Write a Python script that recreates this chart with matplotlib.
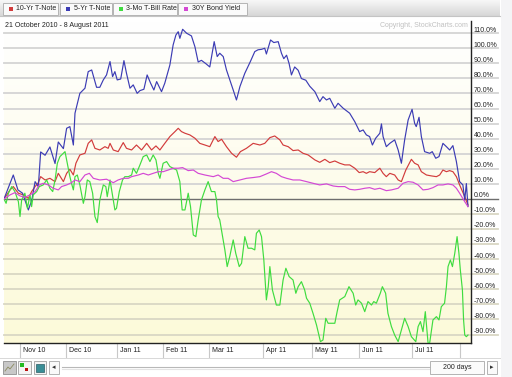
import numpy as np
import matplotlib
matplotlib.use('Agg')
import matplotlib.pyplot as plt
from matplotlib.patches import Rectangle
from matplotlib import transforms

plt.rcParams['font.family'] = ['Liberation Sans', 'DejaVu Sans']

# percent change since 21 Oct 2010, x = trading day index
note10_day = [0, 2.6, 4, 6.2, 8.3, 10.5, 11.9, 13.4, 14.8, 15.8,
              17.7, 19.8, 22, 23.4, 25.6, 27, 28.4, 29.9, 31, 32.7,
              34.9, 36.3, 37.8, 39.2, 41.3, 43.5, 44.9, 45.7, 47.1, 49.2,
              51.4, 52.8, 55, 57.1, 59.3, 61.5, 63.6, 65.5, 67.2, 69.3,
              71.5, 73.7, 75.1, 76.5, 78, 80.1, 82.3, 84.4, 86.6, 88.7,
              90.9, 92.3, 93.8, 95.9, 98.1, 100.2, 101.9, 104.5, 107.4, 110.3,
              112.4, 114.6, 116.7, 118.9, 120.3, 122.5, 124.6, 126.8, 128.9, 131.1,
              134, 136.1, 138.3, 140.4, 142.6, 144.7, 146.9, 149, 151.2, 153.1,
              154.8, 156.2, 157.6, 159.8, 162, 163.4, 164.8, 166.3, 168.4, 169.9,
              171.3, 173.2, 175.6, 177, 178.5, 179.9, 182.1, 184.2, 186.4, 187.8,
              189.2, 190.7, 192.1, 193.5, 195, 196.4, 198.6, 200]
note10_pct = [0, 6.0, 8.2, 3.8, 2.7, 0.4, 4.9, 8.2, 10.8, 14.8,
              12.6, 13.7, 11.5, 17.0, 11.5, 17.0, 19.7, 15.9, 23.7, 29.2,
              30.3, 36.9, 39.2, 33.6, 32.5, 34.7, 33.6, 36.9, 32.5, 31.4,
              37.4, 33.6, 32.5, 35.8, 32.5, 36.9, 32.5, 35.2, 32.5, 36.9,
              41.4, 44.7, 46.9, 44.7, 43.6, 42.5, 40.3, 36.9, 35.8, 34.7,
              41.4, 38.1, 39.6, 34.7, 30.3, 27.7, 31.4, 33.6, 36.9, 35.8,
              36.9, 40.7, 41.8, 39.2, 35.8, 34.7, 32.1, 32.5, 30.3, 29.2,
              25.9, 24.3, 26.3, 24.1, 25.2, 23.7, 22.6, 22.6, 20.4, 17.5,
              18.1, 17.0, 18.1, 17.5, 20.4, 17.0, 14.8, 17.0, 15.9, 12.6,
              11.5, 19.2, 26.3, 23.7, 22.6, 18.1, 15.9, 15.3, 14.8, 15.9,
              19.2, 18.1, 18.8, 18.1, 14.8, 9.3, 1.5, -4.0]

note5_day = [0, 4, 6, 8, 10.5, 12, 13.4, 14.8, 15.8, 17.7,
             19.8, 22, 23.4, 25.6, 27, 28.4, 29.9, 30.6, 32.7, 34.9,
             36.3, 37.8, 39.9, 41.3, 42.8, 44.2, 45.7, 46.8, 47.8, 48.8,
             50.3, 51.7, 52.8, 54.3, 55.7, 57.4, 58.6, 60.3, 61.7, 63.2,
             64.6, 65.8, 67.9, 69.3, 71.5, 72.9, 74.1, 75.1, 75.8, 77,
             78.7, 80.8, 82.3, 83.7, 85.1, 87, 88.7, 90.6, 91.9, 93,
             94.5, 95.9, 97.6, 98.8, 100.2, 101.7, 103.8, 106.2, 108.1, 109.5,
             111, 112.4, 113.1, 114.9, 116.3, 118.2, 119.6, 120.6, 121.8, 122.9,
             123.9, 125.3, 126.8, 128.2, 130.1, 131.8, 134, 136.1, 137.5, 139,
             140.4, 142.6, 144, 146.2, 149, 151.2, 153.3, 154.8, 156.2, 157.6,
             158.8, 160.2, 162, 162.7, 163.4, 164.8, 166.3, 168.4, 169.9, 171.3,
             172.7, 174.2, 175.9, 177, 177.7, 178.9, 179.9, 181.3, 183.5, 184.6,
             186.1, 187.5, 189.2, 190.7, 192.1, 193.5, 195, 196.4, 197.8, 198.6,
             199.3, 200]
note5_pct = [0, 15.9, 6.0, 3.8, -7.3, -0.7, 11.5, 8.2, 31.2, 29,
             34.5, 23.5, 37.8, 33.4, 46.9, 48, 35.8, 56.9, 70.1, 73.5,
             84.5, 85.6, 74.1, 74.1, 79, 82.3, 91.2, 81.2, 84.5, 79,
             79.6, 91.8, 83.4, 73.5, 75.7, 70.1, 71.9, 72.8, 82.3, 76.8,
             72.3, 77.9, 71.2, 76.8, 88.9, 102.2, 108.8, 111, 106.6, 112.6,
             110, 108.2, 101, 90.9, 92, 89.8, 87.6, 104.4, 94.5, 96.7,
             94.5, 85.6, 77.9, 72.3, 65.7, 74.6, 83.4, 91.2, 97.8, 99,
             99.3, 100, 96.2, 105.5, 103.8, 104.4, 96.7, 93.1, 95.4, 89.8,
             82.3, 87.6, 85.4, 79.9, 78.8, 74.8, 71.2, 64.6, 67.9, 65.7,
             66.8, 60.2, 63.5, 60.2, 56.9, 51.3, 44.7, 45.8, 42.5, 41.4,
             35.8, 40.3, 43.6, 49.8, 41.4, 34.7, 36.9, 39.2, 32.5, 23.7,
             39.2, 52.4, 59.5, 50.2, 48, 54.2, 41.4, 31.4, 30.3, 31.4,
             27, 28.1, 36.9, 34.7, 32.5, 35.4, 24.8, 11.5, 9.3, -0.7,
             10.2, -5]

tbill_day = [0, 0.9, 1.9, 3.3, 4.7, 6.2, 6.9, 7.6, 9.0, 10.1,
             11.2, 11.9, 12.6, 14.1, 15.2, 16.9, 18.4, 19.8, 21.0, 22.0,
             23.0, 24.1, 25.6, 26.3, 27.0, 28.4, 29.1, 29.9, 30.6, 31.6,
             32.7, 34.2, 34.9, 35.9, 37.0, 38.2, 39.2, 40.2, 41.3, 42.8,
             43.9, 44.5, 45.7, 47.1, 47.8, 48.5, 49.7, 51.1, 52.1, 53.6,
             55.0, 55.7, 57.1, 58.6, 60.0, 61.5, 62.9, 64.3, 65.5, 66.5,
             67.2, 68.6, 70.1, 71.5, 72.9, 74.4, 75.8, 76.8, 78.0, 79.4,
             80.4, 81.6, 82.7, 83.7, 85.1, 86.6, 88.0, 89.4, 90.9, 91.6,
             92.3, 93.0, 94.0, 95.2, 96.2, 97.3, 98.8, 99.9, 101.4, 102.4,
             103.8, 105.2, 106.7, 108.1, 108.8, 110.0, 111.0, 112.0, 113.1, 113.9,
             114.6, 115.7, 117.4, 118.9, 120.3, 121.5, 122.9, 124.6, 125.8, 126.8,
             128.2, 129.6, 130.4, 131.8, 133.2, 134.7, 136.4, 137.5, 138.7, 139.7,
             141.1, 142.6, 143.6, 144.7, 146.9, 148.7, 150.5, 151.6, 152.6, 154.1,
             155.5, 156.9, 158.4, 159.4, 160.5, 162.2, 163.1, 164.5, 165.5, 167.0,
             168.4, 169.9, 171.3, 172.7, 174.2, 175.6, 177.5, 178.5, 179.5, 180.6,
             181.6, 182.8, 183.5, 184.9, 186.4, 187.5, 188.5, 189.9, 190.7, 191.4,
             192.4, 193.3, 194.3, 195.3, 196.1, 196.7, 197.6, 198.1, 198.6, 199.3,
             200]
tbill_pct = [0, -2.9, 3.8, 8.2, 4.9, -1.8, -11.7, -0.7, 3.8, -6.2,
             2.7, -5.1, 2.7, 4.9, 8.2, 9.3, 12.6, 7.1, 4.9, 12.6,
             23.7, 28.1, 30.3, 31.4, 25.9, 14.8, 10.4, 6.0, 14.8, 15.9,
             9.3, -2.9, 1.5, 12.6, 11.5, 3.8, -11.7, -15.7, -0.7, 9.3,
             8.2, 1.5, 12.6, -0.7, -7.3, -6.2, 4.9, 12.6, 14.8, 14.8,
             15.9, 20.4, 17.0, 22.6, 28.1, 29.2, 24.8, 29.2, 25.9, 17.0,
             13.7, 23.7, 24.8, 21.5, 20.4, 19.2, 11.5, -7.3, -7.3, 3.8,
             -5.1, -23.9, -25.0, -13.9, -0.7, 6.0, 11.5, 4.9, 4.9, -0.7,
             -11.7, -13.9, -22.8, -33.8, -44.9, -38.3, -27.2, -36.1, -44.9, -42.7,
             -25.0, -32.7, -32.7, -33.8, -22.8, -20.6, -25.0, -40.5, -67.0, -58.2,
             -44.9, -60.4, -70.4, -70.4, -53.8, -46.0, -51.5, -53.8, -62.6, -58.2,
             -54.9, -60.4, -65.9, -69.2, -75.9, -83.6, -94.7, -93.6, -79.2, -82.5,
             -82.5, -82.5, -74.8, -67.0, -64.8, -58.2, -62.6, -70.4, -67.0, -69.2,
             -74.8, -68.1, -70.4, -68.1, -69.2, -62.6, -58.2, -62.6, -75.9, -84.7,
             -90.3, -94.7, -86.9, -79.2, -84.7, -91.4, -94.7, -84.7, -81.4, -88.1,
             -74.8, -95.8, -95.4, -80.3, -78.1, -80.3, -71.5, -69.2, -58.2, -44.9,
             -40.5, -44.9, -36.1, -25.0, -36.1, -47.1, -60.4, -80.3, -90.3, -91.4,
             -90.3]

bond30_day = [0, 2.6, 4.7, 6.9, 9, 11.2, 13.4, 15.2, 16.9, 19.1,
              21.2, 23.4, 24.8, 27, 29.1, 30.6, 32.7, 34.9, 36.8, 38.5,
              41.3, 44.2, 47.1, 49.2, 51.4, 53.6, 55, 57.9, 60, 62.2,
              64.3, 66.5, 68.6, 70.8, 72.9, 75.1, 77, 79.4, 81.6, 83.7,
              86.6, 90.2, 92.3, 94.5, 96.6, 98.8, 101.7, 104.5, 107.4, 110.3,
              113.1, 115.3, 117.4, 119.6, 121.8, 124.6, 127.5, 130.4, 133.2, 136.1,
              139, 141.9, 144, 146.9, 149, 151.2, 153.3, 155.5, 157.6, 159.8,
              162, 164.8, 167, 169.9, 172, 174.2, 176.3, 178.5, 180.6, 182.8,
              184.9, 187.1, 189.2, 191.4, 193.5, 195, 196.4, 198.6, 200]
bond30_pct = [0, 2.7, 4.2, 2.0, 1.1, 2.7, 4.9, 9.3, 10.4, 9.3,
              7.1, 6.0, 8.2, 9.3, 10.8, 12.6, 11.5, 15.9, 17.0, 13.7,
              12.6, 13.1, 10.8, 12.6, 13.7, 13.7, 14.8, 15.9, 17.0, 15.9,
              17.0, 18.1, 18.1, 19.2, 20.4, 20.4, 20.8, 18.8, 19.2, 17.0,
              15.9, 14.8, 15.9, 13.7, 13.7, 11.5, 12.6, 13.7, 14.2, 14.8,
              16.6, 18.1, 17.0, 14.8, 13.7, 12.6, 12.6, 11.5, 10.4, 9.3,
              10.0, 8.6, 8.2, 8.2, 6.4, 6.0, 6.4, 7.1, 7.5, 6.4,
              7.1, 5.5, 6.0, 7.1, 10.4, 11.5, 11.1, 9.3, 6.0, 6.4,
              7.5, 9.3, 9.3, 10.0, 9.3, 7.1, 3.8, -1.8, -5.1]

series_names = ['10-Yr T-Note', '5-Yr T-Note', '3-Mo T-Bill Rate', '30Y Bond Yield']
series_colors = ['#d23c3c', '#3c3cb4', '#3fdc3f', '#d448d4']

month_labels = ['Nov 10', 'Dec 10', 'Jan 11', 'Feb 11', 'Mar 11',
                'Apr 11', 'May 11', 'Jun 11', 'Jul 11', '']
month_start = [7, 26.6, 48.8, 68.7, 88.5, 111.8, 132.6, 153.1, 175.7, 196.6]
y_ticks = list(range(-90, 111, 10))

W, H = 512, 377
fig = plt.figure(figsize=(W / 100, H / 100), dpi=100)
fig.patch.set_facecolor('white')

x0, x1, y0, y1 = 0, 201.3, -95.6, 118.1
ax = fig.add_axes([4 / W, 34 / H, 467 / W, 322 / H])
ax.set_facecolor('none')

# white -> cream background
t = np.linspace(0, 1, 256)[:, None]
top = np.array([1.0, 1.0, 1.0])
bot = np.array([0.99, 0.98, 0.85])
grad = (top * (1 - t) + bot * t)[:, None, :] * np.ones((1, 2, 1))
ax.imshow(grad, extent=[x0, x1, y0, y1], aspect='auto', zorder=0,
          interpolation='bilinear')

ext = (498 - 4) / 467
for v in y_ticks:
    if v == 0:
        ax.axhline(v, xmin=0, xmax=ext, color='#6e6e6e', lw=1.0, clip_on=False, zorder=1)
    else:
        c = '#d4d4d4' if v > 0 else '#d9d7c4'
        ax.axhline(v, xmin=0, xmax=ext, color=c, lw=1.3, clip_on=False, zorder=1)
    lab_tr = transforms.offset_copy(ax.get_yaxis_transform(), fig=fig, x=2.5, y=3.2, units='dots')
    ax.text(1.0, v, f'{v:.1f}%', transform=lab_tr, ha='left', va='center',
            fontsize=5, color='#222222', zorder=5, clip_on=False)

xs = [note10_day, note5_day, tbill_day, bond30_day]
ys = [note10_pct, note5_pct, tbill_pct, bond30_pct]
for xd, yd, c in zip(xs, ys, series_colors):
    ax.plot(xd, yd, color=c, lw=0.85, zorder=3)

ax.set_xlim(x0, x1)
ax.set_ylim(y0, y1)
ax.set_xticks([])
ax.set_yticks([])
for s in ['left', 'top']:
    ax.spines[s].set_visible(False)
ax.spines['right'].set_color('#222222')
ax.spines['bottom'].set_color('#222222')
ax.spines['right'].set_linewidth(1.0)
ax.spines['bottom'].set_linewidth(1.0)

# month separators and labels
for d, lab in zip(month_start, month_labels):
    ax.axvline(d, ymin=-0.045, ymax=0, color='#c8c8c8', lw=0.8, clip_on=False)
    tr = transforms.offset_copy(ax.get_xaxis_transform(), fig=fig, x=3, y=0, units='dots')
    ax.text(d, -0.022, lab, transform=tr, ha='left', va='center', fontsize=5,
            color='#222222', clip_on=False)

# overlay for the page furniture (header, footer)
ui = fig.add_axes([0, 0, 1, 1])
ui.set_xlim(0, W)
ui.set_ylim(H, 0)
ui.axis('off')

# header bar
hb = np.linspace(0, 1, 64)[:, None]
hcol = (np.array([0.97, 0.97, 0.97]) * (1 - hb) + np.array([0.84, 0.84, 0.84]) * hb)[:, None, :] * np.ones((1, 2, 1))
ui.imshow(hcol, extent=[0, 500, 16, 0], aspect='auto', zorder=1)
ui.plot([0, 500], [16, 16], color='#c4c4c4', lw=0.8, zorder=2)
btn_x = [(3, 58), (60, 112), (113, 177), (178, 247)]
for (bx0, bx1), name, c in zip(btn_x, series_names, series_colors):
    ui.add_patch(Rectangle((bx0, 2.5), bx1 - bx0, 12.5, facecolor='#fafafa',
                           edgecolor='#b4b4b4', lw=0.7, zorder=3))
    ui.add_patch(Rectangle((bx0 + 6, 6.5), 4, 4, facecolor=c, edgecolor='none', zorder=4))
    ui.text(bx0 + 13.5, 9, name, fontsize=5, ha='left', va='center', color='#222222', zorder=4)

ui.text(5, 25.5, '21 October 2010 - 8 August 2011', fontsize=5, ha='left', va='center',
        color='#222222', zorder=4)
ui.text(468, 25.5, 'Copyright, StockCharts.com', fontsize=5, ha='right', va='center',
        color='#c0c0c0', zorder=4)

# right strip
ui.add_patch(Rectangle((501, 0), 11, H, facecolor='#f4f4f6', edgecolor='none', zorder=0))

# footer
ui.plot([0, 500], [357.5, 357.5], color='#d8d8d8', lw=0.7, zorder=1)
ui.add_patch(Rectangle((3, 361), 13, 13, facecolor='#c8c8c8', edgecolor='#909090', lw=0.6, zorder=2))
ui.plot([5, 8, 10, 14], [371, 367, 369, 364], color='#8a8a60', lw=0.6, zorder=3)
ui.add_patch(Rectangle((18, 361), 13, 13, facecolor='#f4f4f4', edgecolor='#a0a0a0', lw=0.6, zorder=2))
ui.add_patch(Rectangle((20, 363), 3.5, 3.5, facecolor='#22bb22', edgecolor='none', zorder=3))
ui.add_patch(Rectangle((24.5, 367.5), 3.5, 3.5, facecolor='#bb1111', edgecolor='none', zorder=3))
ui.add_patch(Rectangle((34, 361), 12, 13, facecolor='#f4f4f4', edgecolor='#a0a0a0', lw=0.6, zorder=2))
ui.add_patch(Rectangle((36, 363.5), 8, 8, facecolor='#3a8e96', edgecolor='#2a5e66', lw=0.5, zorder=3))
ui.add_patch(Rectangle((49, 361), 10, 13, facecolor='#fafafa', edgecolor='#a8a8a8', lw=0.6, zorder=2))
ui.text(54, 367.5, '◂', fontsize=5, ha='center', va='center', color='#333333', zorder=3,
        family=['DejaVu Sans'])
ui.plot([62, 430], [367, 367], color='#b8b8b8', lw=0.8, zorder=1)
ui.plot([62, 430], [368.5, 368.5], color='#e4e4e4', lw=0.8, zorder=1)
ui.add_patch(Rectangle((430, 361), 54, 13, facecolor='#fbfbfb', edgecolor='#a8a8a8', lw=0.6, zorder=2))
ui.text(457, 367.5, '200 days', fontsize=5, ha='center', va='center', color='#222222', zorder=3)
ui.add_patch(Rectangle((487, 361), 10, 13, facecolor='#fafafa', edgecolor='#a8a8a8', lw=0.6, zorder=2))
ui.text(492, 367.5, '▸', fontsize=5, ha='center', va='center', color='#333333', zorder=3,
        family=['DejaVu Sans'])

fig.savefig('out.png', dpi=100)
